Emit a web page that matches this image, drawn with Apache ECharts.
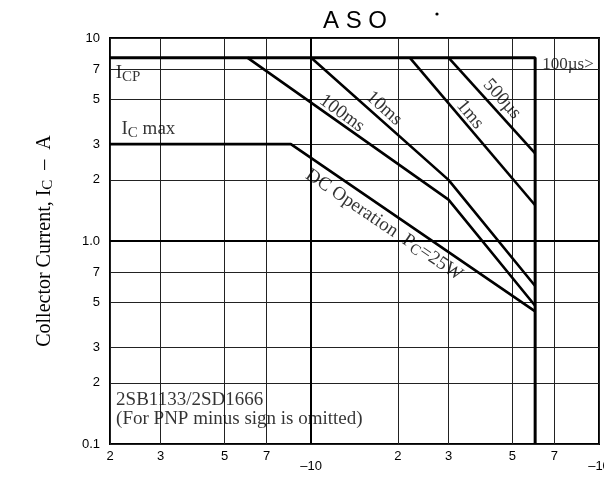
<!DOCTYPE html>
<html>
<head>
<meta charset="utf-8">
<script src="https://cdn.jsdelivr.net/npm/echarts@6/dist/echarts.min.js"></script>
<style>html,body{margin:0;padding:0;background:#fff;}#c{width:604px;height:477px;}</style>
</head>
<body>
<div id="c"></div>
<script>
// ---- data ----
const xTicks = [2, 3, 5, 7, 10, 20, 30, 50, 70, 100];
const xTickLabels = ['2', '3', '5', '7', '–10', '2', '3', '5', '7', '–10'];
const yTicks = [0.1, 0.2, 0.3, 0.5, 0.7, 1, 2, 3, 5, 7, 10];
const yTickLabels = ['0.1', '2', '3', '5', '7', '1.0', '2', '3', '5', '7', '10'];

// safe operating area boundaries [VCE (V), IC (A)]
const outline = [[2, 8], [60, 8], [60, 0.1]];          // ICP and VCEO limit
const dcLimit = [[2, 3], [8.5, 3], [60, 0.45]];        // IC max + DC operation PC=25W
const ms100 = [[6, 8], [30, 1.6], [60, 0.48]];
const ms10 = [[10, 8], [30, 2.0], [60, 0.6]];
const ms1 = [[22, 8], [60, 1.5]];
const us500 = [[30, 8], [60, 2.7]];

function lookup(ticks, labels, v) {
  for (let i = 0; i < ticks.length; i++) {
    if (Math.abs(Math.log10(v) - Math.log10(ticks[i])) < 1e-6) return labels[i];
  }
  return '';
}

const chart = echarts.init(document.getElementById('c'), null, {renderer: 'canvas'});
const serif = 'Liberation Serif';
const sans = 'Liberation Sans';
const lineSeries = (name, data, w) => ({
  name, type: 'line', data, symbol: 'none', silent: true,
  lineStyle: {color: '#000', width: w}, z: 5
});

const richSub = {
  n: {fontFamily: serif, fontSize: 19, color: '#000'},
  b: {fontFamily: serif, fontSize: 19, color: '#000'},
  s: {fontFamily: serif, fontSize: 15, color: '#000', padding: [7, 0, 0, 0]}
};

chart.setOption({
  animation: false,
  backgroundColor: '#fff',
  title: {
    text: 'A S O', left: 318, top: 4,
    textStyle: {fontFamily: sans, fontSize: 24, fontWeight: 'normal', color: '#000'}
  },
  graphic: [
    {type: 'circle', shape: {cx: 437, cy: 14, r: 1.6}, style: {fill: '#000'}}
  ],
  grid: {left: 110, top: 38, right: 5, bottom: 33, containLabel: false, outerBoundsMode: 'none',
         show: true, borderColor: '#000', borderWidth: 2, backgroundColor: 'transparent'},
  xAxis: {
    type: 'log', logBase: 10, min: 2, max: 100,
    axisLine: {show: false},
    axisTick: {show: false, customValues: xTicks},
    minorTick: {show: false},
    splitLine: {show: true, lineStyle: {color: '#222', width: 1}},
    axisLabel: {
      customValues: xTicks, margin: 6, hideOverlap: false,
      fontFamily: sans, fontSize: 13, color: '#000',
      formatter: v => {
        const t = lookup(xTicks, xTickLabels, v);
        return t.indexOf('–') === 0 ? '{lo|' + t + '}' : t;
      },
      rich: {lo: {fontFamily: sans, fontSize: 13, color: '#000', padding: [10, 0, 0, 0]}}
    }
  },
  yAxis: {
    type: 'log', logBase: 10, min: 0.1, max: 10,
    name: '{n|Collector Current, I}{s|C}{n|  –  A}',
    nameLocation: 'middle', nameGap: 54, nameRotate: 90,
    nameTextStyle: {
      rich: {
        n: {fontFamily: serif, fontSize: 20, color: '#000'},
        s: {fontFamily: serif, fontSize: 15, color: '#000', padding: [8, 0, 0, 0]}
      }
    },
    axisLine: {show: false},
    axisTick: {show: false, customValues: yTicks},
    minorTick: {show: false},
    splitLine: {show: true, lineStyle: {color: '#222', width: 1}},
    axisLabel: {
      customValues: yTicks, margin: 10, hideOverlap: false,
      fontFamily: sans, fontSize: 13, color: '#000',
      formatter: v => lookup(yTicks, yTickLabels, v)
    }
  },
  series: [
    Object.assign(lineSeries('outline', outline, 3), {
      markLine: {
        silent: true, symbol: 'none', label: {show: false},
        lineStyle: {color: '#000', width: 2, type: 'solid'},
        data: [{yAxis: 1}, {xAxis: 10}]
      }
    }),
    lineSeries('DC', dcLimit, 2.6),
    lineSeries('100ms', ms100, 2.6),
    lineSeries('10ms', ms10, 2.6),
    lineSeries('1ms', ms1, 2.6),
    lineSeries('500us', us500, 2.6),
    {
      name: 'labels', type: 'scatter', symbolSize: 0, silent: true, z: 6,
      label: {show: true, position: 'inside', color: '#000', fontFamily: serif, fontSize: 19, rich: richSub},
      data: [
        {value: [2.31, 6.7], label: {formatter: '{b|I}{s|CP}'}},
        {value: [2.72, 3.55], label: {formatter: '{b|I}{s|C}{n| max}'}},
        {value: [12.8, 4.25], label: {formatter: '100ms', rotate: -36}},
        {value: [17.9, 4.5], label: {formatter: '10ms', rotate: -42}},
        {value: [35.6, 4.2], label: {formatter: '1ms', rotate: -50}},
        {value: [46, 5.0], label: {formatter: '500µs', rotate: -48}},
        {value: [17.9, 1.2], label: {formatter: '{n|DC Operation  P}{s|C}{n|=25W}', rotate: -34}},
        {value: [63.5, 7.4], label: {formatter: '100µs>', position: 'right', distance: 0, fontSize: 17}},
        {value: [2.1, 0.1476], label: {formatter: '2SB1133/2SD1666\n(For PNP minus sign is omitted)', position: 'right', distance: 0, fontSize: 19, lineHeight: 19, align: 'left'}}
      ]
    }
  ]
});
</script>
</body>
</html>
